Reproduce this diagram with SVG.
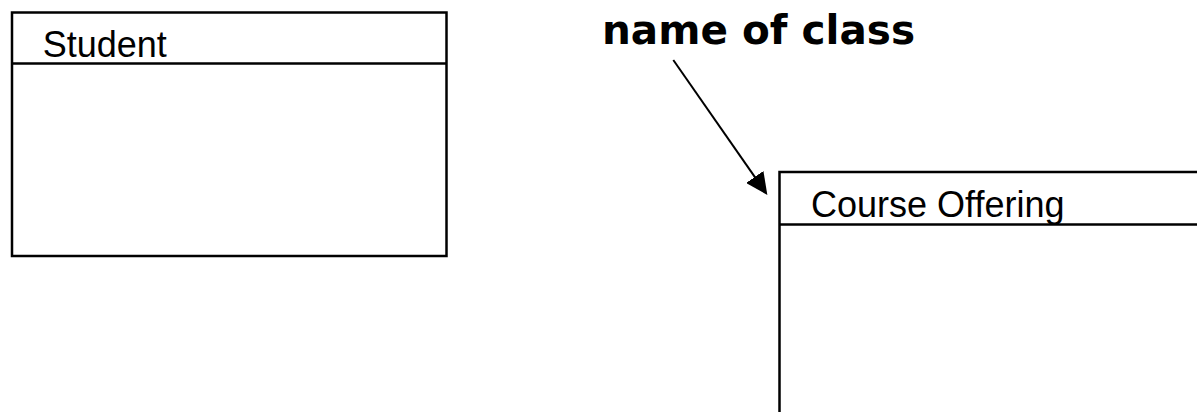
<svg xmlns="http://www.w3.org/2000/svg" width="1197" height="412" viewBox="0 0 1197 412">
  <style>
    .box { fill: #ffffff; stroke: #000000; stroke-width: 2.5; }
    .div { stroke: #000000; stroke-width: 2.5; }
    .cls { font-family: "Liberation Sans", Arial, sans-serif; font-size: 36px; fill: #000000; }
    .note { font-family: "DejaVu Sans", "Noto Sans", sans-serif; font-weight: bold; font-size: 40px; fill: #000000; }
    .conn { stroke: #000000; stroke-width: 2; fill: none; }
  </style>
  <defs>
    <marker id="arrow" markerUnits="userSpaceOnUse" markerWidth="22" markerHeight="21" refX="3" refY="10.5" orient="auto">
      <path d="M0,0 L22,10.5 L0,21 Z" fill="#000000"/>
    </marker>
  </defs>
  <rect width="1197" height="412" fill="#ffffff"/>

  <g id="student">
    <rect class="box" x="12" y="12.5" width="434.5" height="243.5"/>
    <line class="div" x1="12" y1="63.5" x2="446.5" y2="63.5"/>
    <text class="cls" x="42.7" y="56.5">Student</text>
  </g>

  <g id="course-offering">
    <rect class="box" x="779.5" y="172" width="460" height="300"/>
    <line class="div" x1="779.5" y1="224.5" x2="1239.5" y2="224.5"/>
    <text class="cls" x="811" y="216.7">Course Offering</text>
  </g>

  <g id="note">
    <text class="note" x="602" y="44" textLength="313" lengthAdjust="spacingAndGlyphs">name of class</text>
  </g>

  <g id="connectors">
    <line class="conn" x1="673.3" y1="60" x2="756.5" y2="179.4" marker-end="url(#arrow)"/>
  </g>
</svg>
